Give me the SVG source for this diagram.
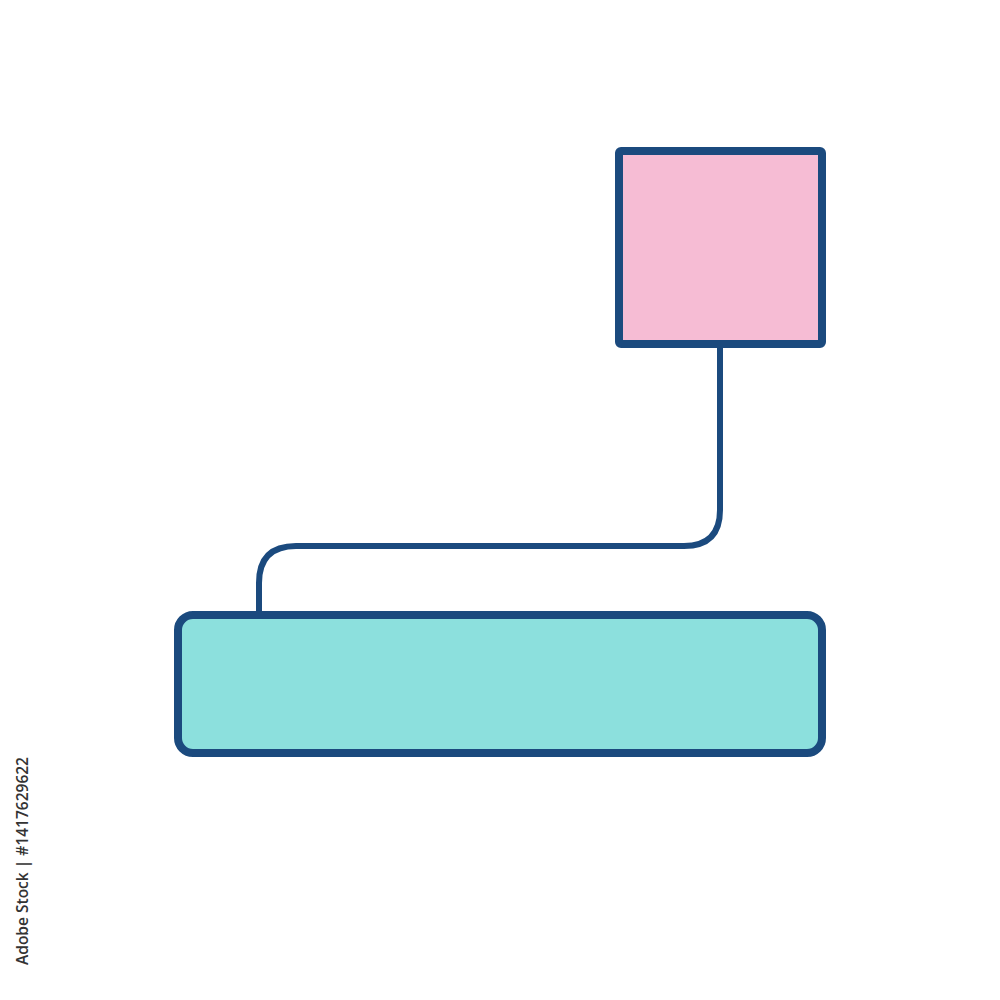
<svg xmlns="http://www.w3.org/2000/svg" width="1000" height="1000" viewBox="0 0 1000 1000">
<style>
.node{stroke:#1B4A7E;stroke-width:8;stroke-linejoin:round}
.conn{fill:none;stroke:#1B4A7E;stroke-width:6;stroke-linecap:round}
.id{font-family:"Open Sans","Noto Sans",sans-serif;font-size:17px;font-weight:600;fill:#333333}
</style>
<rect width="1000" height="1000" fill="#ffffff"/>
<g id="connectors">
<path class="conn" d="M720 346 V510 Q720 546 684 546 H296 Q259 546 259 583 V612"/>
</g>
<g id="node-top">
<rect class="node" x="619" y="151" width="203" height="193" rx="2" fill="#F6BCD4"/>
</g>
<g id="node-bottom">
<rect class="node" x="178" y="615" width="644" height="138" rx="15" fill="#8CE0DD"/>
</g>
<text class="id" transform="translate(28 965) rotate(-90)" textLength="208" lengthAdjust="spacingAndGlyphs">Adobe Stock | #1417629622</text>
</svg>
